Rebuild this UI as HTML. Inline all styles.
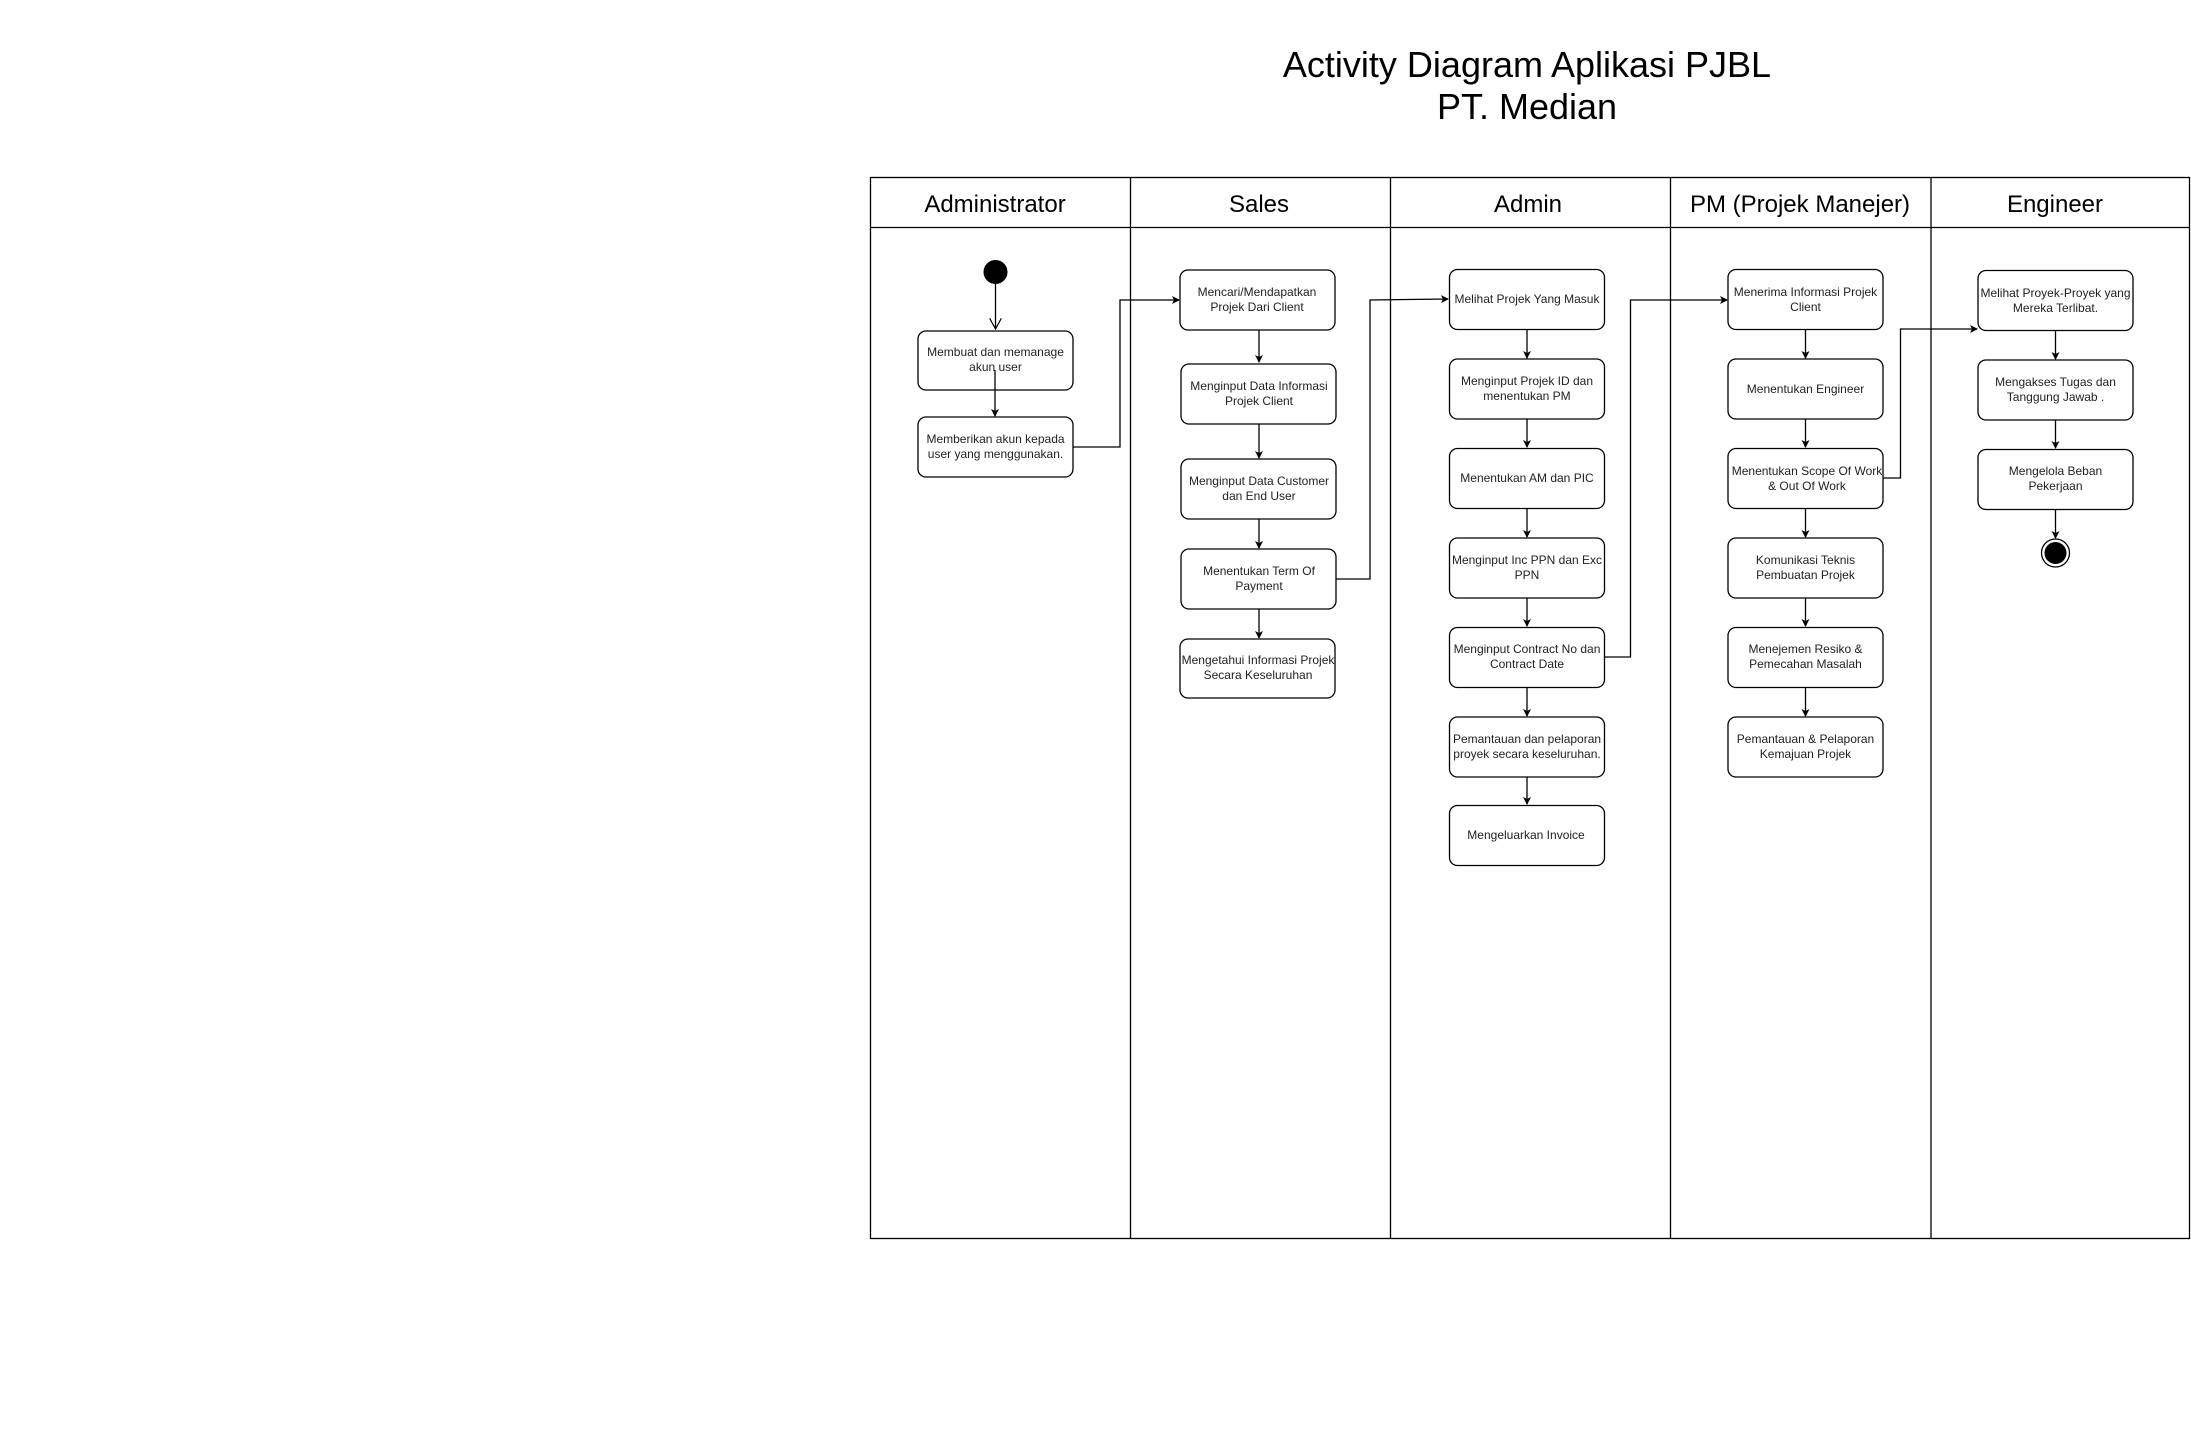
<!DOCTYPE html>
<html><head><meta charset="utf-8"><style>
html,body{margin:0;padding:0;background:#fff;}
svg{display:block;}
text{font-family:"Liberation Sans",Arial,sans-serif;fill:#000;}
.b{fill:#fff;stroke:#000;stroke-width:1.3;}
.l{stroke:#000;stroke-width:1.3;fill:none;}
.t{font-size:12px;text-anchor:middle;fill:#222;}
.h{font-size:24px;text-anchor:middle;}
</style></head><body>
<svg width="2191" height="1455" viewBox="0 0 2191 1455" xmlns="http://www.w3.org/2000/svg">
<defs>
<marker id="a" markerWidth="8" markerHeight="8" refX="7" refY="4" orient="auto" markerUnits="userSpaceOnUse"><path d="M0,0 L8,4 L0,8 L2,4 Z" fill="#000"/></marker>
<marker id="o" markerWidth="12" markerHeight="12" refX="6" refY="11" orient="0" markerUnits="userSpaceOnUse"><path d="M0,0 L6,11 L12,0" fill="none" stroke="#000" stroke-width="1.2"/></marker>
</defs>
<text x="1527" y="77" font-size="36" text-anchor="middle">Activity Diagram Aplikasi PJBL</text>
<text x="1527" y="119" font-size="36" text-anchor="middle">PT. Median</text>
<!-- pool -->
<rect x="870.5" y="177.5" width="1319" height="1061" fill="none" stroke="#000" stroke-width="1.3"/>
<line class="l" x1="870" y1="227.5" x2="2190" y2="227.5"/>
<line class="l" x1="1130.5" y1="177" x2="1130.5" y2="1239"/>
<line class="l" x1="1390.5" y1="177" x2="1390.5" y2="1239"/>
<line class="l" x1="1670.5" y1="177" x2="1670.5" y2="1239"/>
<line class="l" x1="1931" y1="177" x2="1931" y2="1239"/>
<text class="h" x="995" y="212">Administrator</text>
<text class="h" x="1259" y="212">Sales</text>
<text class="h" x="1528" y="212">Admin</text>
<text class="h" x="1800" y="212">PM (Projek Manejer)</text>
<text class="h" x="2055" y="212">Engineer</text>
<!-- administrator -->
<circle cx="995.5" cy="272" r="12" fill="#000"/>
<line class="l" x1="995.5" y1="284" x2="995.5" y2="329" marker-end="url(#o)"/>
<rect class="b" x="918" y="331" width="155" height="59" rx="8"/>
<text class="t" x="995.5" y="356">Membuat dan memanage</text><text class="t" x="995.5" y="371">akun user</text>
<line class="l" x1="995" y1="370" x2="995" y2="416" marker-end="url(#a)"/>
<rect class="b" x="918" y="417" width="155" height="60" rx="8"/>
<text class="t" x="995.5" y="443">Memberikan akun kepada</text><text class="t" x="995.5" y="458">user yang menggunakan.</text>
<polyline class="l" points="1073,447 1120,447 1120,300 1179,300" marker-end="url(#a)"/>
<!-- sales -->
<g>
<rect class="b" x="1180" y="270" width="155" height="60" rx="8"/>
<text class="t" x="1257" y="296">Mencari/Mendapatkan</text><text class="t" x="1257" y="311">Projek Dari Client</text>
<line class="l" x1="1259" y1="330" x2="1259" y2="362" marker-end="url(#a)"/>
<rect class="b" x="1181" y="364" width="155" height="60" rx="8"/>
<text class="t" x="1259" y="390">Menginput Data Informasi</text><text class="t" x="1259" y="405">Projek Client</text>
<line class="l" x1="1259" y1="424" x2="1259" y2="458" marker-end="url(#a)"/>
<rect class="b" x="1181" y="459" width="155" height="60" rx="8"/>
<text class="t" x="1259" y="485">Menginput Data Customer</text><text class="t" x="1259" y="500">dan End User</text>
<line class="l" x1="1259" y1="519" x2="1259" y2="548" marker-end="url(#a)"/>
<rect class="b" x="1181" y="549" width="155" height="60" rx="8"/>
<text class="t" x="1259" y="575">Menentukan Term Of</text><text class="t" x="1259" y="590">Payment</text>
<line class="l" x1="1259" y1="609" x2="1259" y2="638" marker-end="url(#a)"/>
<rect class="b" x="1180" y="639" width="155" height="59" rx="8"/>
<text class="t" x="1258" y="664">Mengetahui Informasi Projek</text><text class="t" x="1258" y="679">Secara Keseluruhan</text>
<polyline class="l" points="1336,579 1370,579 1370,300 1448,299" marker-end="url(#a)"/>
</g>
<!-- admin -->
<g>
<rect class="b" x="1449.5" y="269.5" width="155" height="60" rx="8"/>
<text class="t" x="1527" y="303">Melihat Projek Yang Masuk</text>
<line class="l" x1="1527" y1="330" x2="1527" y2="358" marker-end="url(#a)"/>
<rect class="b" x="1449.5" y="359" width="155" height="60" rx="8"/>
<text class="t" x="1527" y="385">Menginput Projek  ID dan</text><text class="t" x="1527" y="400">menentukan PM</text>
<line class="l" x1="1527" y1="419" x2="1527" y2="447" marker-end="url(#a)"/>
<rect class="b" x="1449.5" y="448.5" width="155" height="60" rx="8"/>
<text class="t" x="1527" y="482">Menentukan AM dan PIC</text>
<line class="l" x1="1527" y1="509" x2="1527" y2="537" marker-end="url(#a)"/>
<rect class="b" x="1449.5" y="538" width="155" height="60" rx="8"/>
<text class="t" x="1527" y="564">Menginput Inc PPN dan Exc</text><text class="t" x="1527" y="579">PPN</text>
<line class="l" x1="1527" y1="598" x2="1527" y2="626" marker-end="url(#a)"/>
<rect class="b" x="1449.5" y="627.5" width="155" height="60" rx="8"/>
<text class="t" x="1527" y="653">Menginput Contract No dan</text><text class="t" x="1527" y="668">Contract Date</text>
<line class="l" x1="1527" y1="688" x2="1527" y2="716" marker-end="url(#a)"/>
<rect class="b" x="1449.5" y="717" width="155" height="60" rx="8"/>
<text class="t" x="1527" y="743">Pemantauan dan pelaporan</text><text class="t" x="1527" y="758">proyek secara keseluruhan.</text>
<line class="l" x1="1527" y1="777" x2="1527" y2="804" marker-end="url(#a)"/>
<rect class="b" x="1449.5" y="805.5" width="155" height="60" rx="8"/>
<text class="t" x="1526" y="839">Mengeluarkan Invoice</text>
<polyline class="l" points="1605,657 1630.5,657 1630.5,300 1727,300" marker-end="url(#a)"/>
</g>
<!-- PM -->
<g>
<rect class="b" x="1728" y="269.5" width="155" height="60" rx="8"/>
<text class="t" x="1805.5" y="296">Menerima Informasi Projek</text><text class="t" x="1805.5" y="311">Client</text>
<line class="l" x1="1805.5" y1="330" x2="1805.5" y2="358" marker-end="url(#a)"/>
<rect class="b" x="1728" y="359" width="155" height="60" rx="8"/>
<text class="t" x="1805.5" y="393">Menentukan Engineer</text>
<line class="l" x1="1805.5" y1="419" x2="1805.5" y2="447" marker-end="url(#a)"/>
<rect class="b" x="1728" y="448.5" width="155" height="60" rx="8"/>
<text class="t" x="1807" y="475">Menentukan Scope Of Work</text><text class="t" x="1807" y="490">&amp; Out Of Work</text>
<line class="l" x1="1805.5" y1="509" x2="1805.5" y2="537" marker-end="url(#a)"/>
<rect class="b" x="1728" y="538" width="155" height="60" rx="8"/>
<text class="t" x="1805.5" y="564">Komunikasi Teknis</text><text class="t" x="1805.5" y="579">Pembuatan Projek</text>
<line class="l" x1="1805.5" y1="598" x2="1805.5" y2="626" marker-end="url(#a)"/>
<rect class="b" x="1728" y="627.5" width="155" height="60" rx="8"/>
<text class="t" x="1805.5" y="653">Menejemen Resiko &amp;</text><text class="t" x="1805.5" y="668">Pemecahan Masalah</text>
<line class="l" x1="1805.5" y1="688" x2="1805.5" y2="716" marker-end="url(#a)"/>
<rect class="b" x="1728" y="717" width="155" height="60" rx="8"/>
<text class="t" x="1805.5" y="743">Pemantauan &amp; Pelaporan</text><text class="t" x="1805.5" y="758">Kemajuan Projek</text>
<polyline class="l" points="1883,478 1900.5,478 1900.5,329 1977,329" marker-end="url(#a)"/>
</g>
<!-- engineer -->
<g>
<rect class="b" x="1978" y="270.5" width="155" height="60" rx="8"/>
<text class="t" x="2055.5" y="297">Melihat Proyek-Proyek yang</text><text class="t" x="2055.5" y="312">Mereka Terlibat.</text>
<line class="l" x1="2055.5" y1="331" x2="2055.5" y2="359" marker-end="url(#a)"/>
<rect class="b" x="1978" y="360" width="155" height="60" rx="8"/>
<text class="t" x="2055.5" y="386">Mengakses Tugas dan</text><text class="t" x="2055.5" y="401">Tanggung Jawab .</text>
<line class="l" x1="2055.5" y1="420" x2="2055.5" y2="448" marker-end="url(#a)"/>
<rect class="b" x="1978" y="449.5" width="155" height="60" rx="8"/>
<text class="t" x="2055.5" y="475">Mengelola Beban</text><text class="t" x="2055.5" y="490">Pekerjaan</text>
<line class="l" x1="2055.5" y1="510" x2="2055.5" y2="538" marker-end="url(#a)"/>
<circle cx="2055.5" cy="553" r="14" fill="#fff" stroke="#000" stroke-width="1.3"/>
<circle cx="2055.5" cy="553" r="11" fill="#000"/>
</g>
</svg>
</body></html>
